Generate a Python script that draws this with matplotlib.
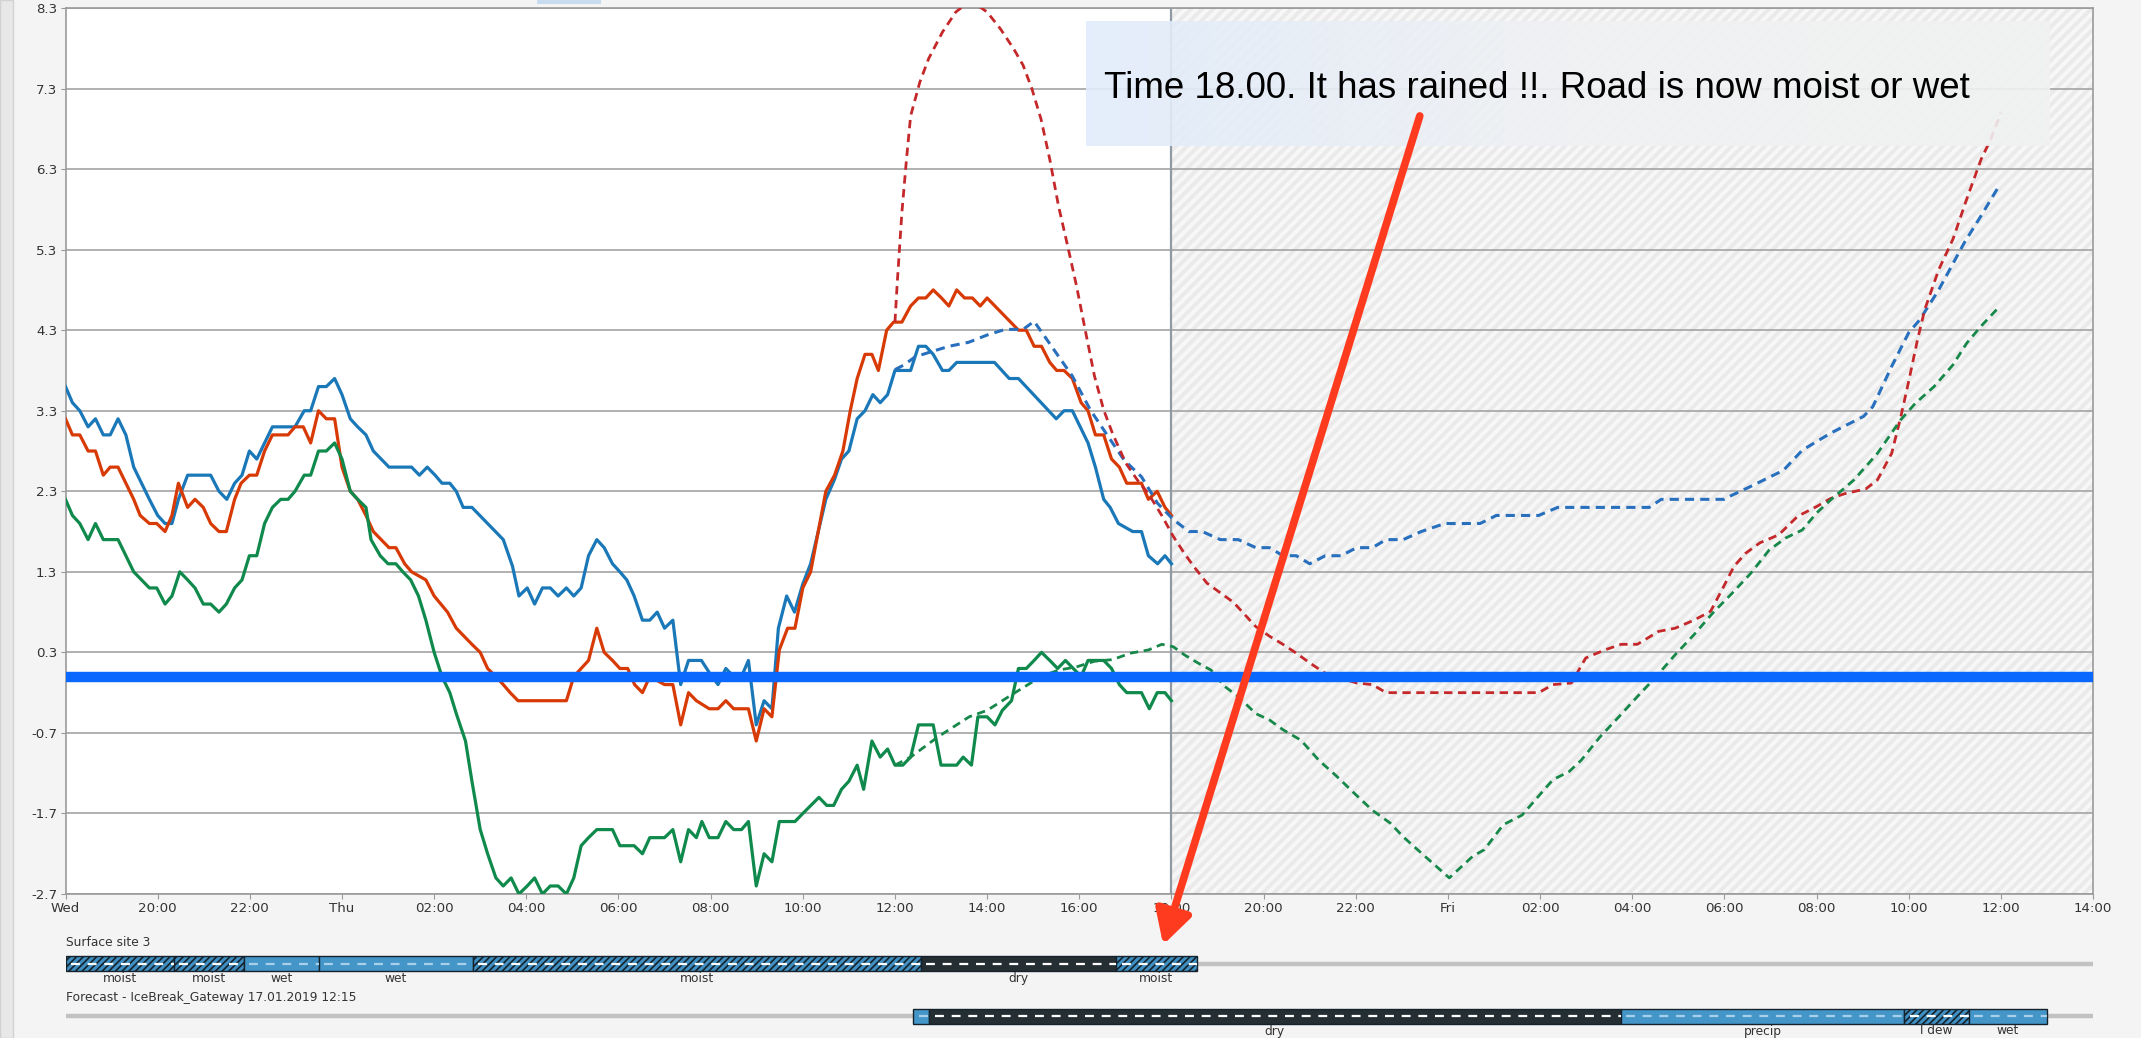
import numpy as np
import matplotlib.pyplot as plt
from matplotlib.colors import LinearSegmentedColormap
from matplotlib.patches import Rectangle

plt.rcParams['font.family'] = ['DejaVu Sans']

# ── hours after Wed 18:00 ─────────────────────────
x_ticks = list(range(0, 45, 2))
x_labels = ['Wed', '20:00', '22:00', 'Thu', '02:00', '04:00', '06:00', '08:00',
            '10:00', '12:00', '14:00', '16:00', '18:00', '20:00', '22:00', 'Fri',
            '02:00', '04:00', '06:00', '08:00', '10:00', '12:00', '14:00']
y_ticks = [-2.7, -1.7, -0.7, 0.3, 1.3, 2.3, 3.3, 4.3, 5.3, 6.3, 7.3, 8.3]

# ── observed (solid) ──────────────────────────────
blue_obs_h = [0, 0.15, 0.31, 0.49, 0.65, 0.82, 0.97, 1.14, 1.31, 1.48, 1.82, 2.0, 2.16, 2.31, 2.45,
              2.65, 3.15, 3.33, 3.5, 3.67, 3.83, 3.99, 4.15, 4.49, 4.98, 5.18, 5.32, 5.49, 5.66,
              5.84, 6.0, 6.18, 6.34, 6.52, 6.68, 6.85, 7.02, 7.51, 7.68, 7.85, 8.02, 8.17, 8.34,
              8.48, 8.63, 8.82, 9.16, 9.5, 9.7, 9.84, 10.02, 10.18, 10.35, 10.52, 10.69, 10.87,
              11.03, 11.19, 11.35, 11.53, 11.69, 11.87, 12.03, 12.18, 12.34, 12.52, 12.68, 12.84,
              13.0, 13.18, 13.35, 13.52, 13.8, 13.97, 14.16, 14.33, 14.5, 14.67, 14.82, 14.99,
              15.16, 15.33, 15.47, 15.65, 15.82, 16.0, 16.17, 16.5, 16.69, 16.84, 17.0, 17.18,
              17.35, 17.52, 17.68, 17.84, 18.0, 18.34, 18.51, 18.67, 18.83, 19.03, 19.17, 19.34,
              20.16, 20.48, 20.68, 21.5, 21.67, 21.85, 22.19, 22.35, 22.53, 22.67, 22.85, 23.16,
              23.35, 23.5, 23.7, 23.86, 24.0]
blue_obs_v = [3.6, 3.4, 3.3, 3.1, 3.2, 3.0, 3.0, 3.2, 3.0, 2.6, 2.2, 2.0, 1.9, 1.9, 2.2,
              2.5, 2.5, 2.3, 2.2, 2.4, 2.5, 2.8, 2.7, 3.1, 3.1, 3.3, 3.3, 3.6, 3.6,
              3.7, 3.5, 3.2, 3.1, 3.0, 2.8, 2.7, 2.6, 2.6, 2.5, 2.6, 2.5, 2.4, 2.4,
              2.3, 2.1, 2.1, 1.9, 1.7, 1.37, 1.0, 1.1, 0.9, 1.1, 1.1, 1.0, 1.1,
              1.0, 1.1, 1.5, 1.7, 1.6, 1.4, 1.3, 1.2, 1.0, 0.7, 0.7, 0.8,
              0.6, 0.7, -0.1, 0.2, 0.2, 0.05, -0.1, 0.1, 0.0, 0.0, 0.2, -0.6,
              -0.3, -0.4, 0.6, 1.0, 0.8, 1.15, 1.4, 2.2, 2.45, 2.7, 2.8, 3.2,
              3.3, 3.5, 3.4, 3.5, 3.8, 3.8, 4.1, 4.1, 4.0, 3.8, 3.8, 3.9,
              3.9, 3.7, 3.7, 3.2, 3.3, 3.3, 2.9, 2.6, 2.2, 2.1, 1.9, 1.8,
              1.8, 1.5, 1.4, 1.5, 1.4]

red_obs_h = [0, 0.15, 0.31, 0.49, 0.65, 0.82, 0.97, 1.14, 1.48, 1.62, 1.82, 1.98, 2.16, 2.31, 2.45,
             2.65, 2.81, 2.99, 3.15, 3.33, 3.49, 3.67, 3.81, 3.99, 4.15, 4.32, 4.49, 4.83, 4.98,
             5.16, 5.32, 5.49, 5.66, 5.84, 6.0, 6.18, 6.34, 6.52, 6.68, 6.85, 7.02, 7.17, 7.36,
             7.51, 7.82, 8.0, 8.29, 8.48, 8.65, 8.82, 9.0, 9.16, 9.34, 9.5, 9.65, 9.82, 10.87,
             11.03, 11.19, 11.35, 11.53, 11.69, 11.87, 12.03, 12.2, 12.35, 12.52, 12.68, 13.0,
             13.18, 13.35, 13.52, 13.69, 13.97, 14.16, 14.33, 14.5, 14.82, 14.99, 15.16, 15.33,
             15.49, 15.67, 15.83, 16.0, 16.17, 16.5, 16.69, 16.87, 17.03, 17.18, 17.35, 17.5,
             17.64, 17.82, 17.97, 18.15, 18.34, 18.51, 18.67, 18.83, 19.01, 19.17, 19.34, 19.51,
             19.68, 19.85, 20.0, 20.68, 20.85, 21.02, 21.18, 21.36, 21.51, 21.67, 21.85, 22.04,
             22.19, 22.35, 22.53, 22.7, 22.87, 23.03, 23.35, 23.5, 23.69, 23.86, 24.0]
red_obs_v = [3.2, 3.0, 3.0, 2.8, 2.8, 2.5, 2.6, 2.6, 2.2, 2.0, 1.9, 1.9, 1.8, 2.0, 2.4,
             2.1, 2.2, 2.1, 1.9, 1.8, 1.8, 2.2, 2.4, 2.5, 2.5, 2.8, 3.0, 3.0, 3.1,
             3.1, 2.9, 3.3, 3.2, 3.2, 2.6, 2.3, 2.2, 2.0, 1.8, 1.7, 1.6, 1.6, 1.4,
             1.3, 1.2, 1.0, 0.8, 0.6, 0.5, 0.4, 0.3, 0.1, 0.0, -0.1, -0.2, -0.3, -0.3,
             0.0, 0.1, 0.2, 0.6, 0.3, 0.2, 0.1, 0.1, -0.1, -0.2, 0.0, -0.1,
             -0.1, -0.6, -0.2, -0.3, -0.4, -0.4, -0.3, -0.4, -0.4, -0.8, -0.4, -0.5,
             0.33, 0.6, 0.6, 1.1, 1.3, 2.3, 2.5, 2.8, 3.3, 3.7, 4.0, 4.0,
             3.8, 4.3, 4.4, 4.4, 4.6, 4.7, 4.7, 4.8, 4.7, 4.6, 4.8, 4.7,
             4.7, 4.6, 4.7, 4.3, 4.3, 4.1, 4.1, 3.9, 3.8, 3.8, 3.7, 3.4,
             3.3, 3.0, 3.0, 2.7, 2.6, 2.4, 2.4, 2.2, 2.3, 2.1, 2.0]

green_obs_h = [0, 0.15, 0.31, 0.49, 0.65, 0.82, 1.14, 1.48, 1.82, 1.98, 2.16, 2.31, 2.48, 2.65,
               2.81, 2.99, 3.15, 3.33, 3.49, 3.67, 3.83, 3.99, 4.15, 4.32, 4.49, 4.67, 4.83,
               4.98, 5.18, 5.32, 5.49, 5.66, 5.84, 6.0, 6.18, 6.34, 6.52, 6.63, 6.83, 7.0,
               7.17, 7.32, 7.49, 7.66, 7.82, 8.0, 8.17, 8.34, 8.48, 8.68, 8.82, 9.0, 9.16,
               9.34, 9.5, 9.67, 9.84, 10.02, 10.18, 10.35, 10.52, 10.69, 10.87, 11.03, 11.19,
               11.35, 11.53, 11.87, 12.03, 12.34, 12.52, 12.68, 13.0, 13.18, 13.35, 13.52,
               13.69, 13.81, 13.97, 14.16, 14.33, 14.5, 14.67, 14.82, 14.99, 15.16, 15.33,
               15.49, 15.83, 16.0, 16.35, 16.52, 16.67, 16.84, 17.0, 17.18, 17.32, 17.5,
               17.68, 17.84, 18.0, 18.17, 18.34, 18.51, 18.83, 19.0, 19.34, 19.48, 19.66,
               19.8, 20.0, 20.17, 20.33, 20.53, 20.68, 20.85, 21.02, 21.18, 21.36, 21.53,
               21.7, 21.87, 22.04, 22.19, 22.35, 22.53, 22.7, 22.87, 23.03, 23.35, 23.52,
               23.69, 23.86, 24.0]
green_obs_v = [2.2, 2.0, 1.9, 1.7, 1.9, 1.7, 1.7, 1.3, 1.1, 1.1, 0.9, 1.0, 1.3, 1.2,
               1.1, 0.9, 0.9, 0.8, 0.9, 1.1, 1.2, 1.5, 1.5, 1.9, 2.1, 2.2, 2.2,
               2.3, 2.5, 2.5, 2.8, 2.8, 2.9, 2.7, 2.3, 2.2, 2.1, 1.7, 1.5, 1.4,
               1.4, 1.3, 1.2, 1.0, 0.7, 0.3, 0.0, -0.2, -0.46, -0.8, -1.3, -1.9, -2.2,
               -2.5, -2.6, -2.5, -2.7, -2.6, -2.5, -2.7, -2.6, -2.6, -2.7, -2.5, -2.1,
               -2.0, -1.9, -1.9, -2.1, -2.1, -2.2, -2.0, -2.0, -1.9, -2.3, -1.9,
               -2.0, -1.8, -2.0, -2.0, -1.8, -1.9, -1.9, -1.8, -2.6, -2.2, -2.3,
               -1.8, -1.8, -1.7, -1.5, -1.6, -1.6, -1.4, -1.3, -1.1, -1.4, -0.8,
               -1.0, -0.9, -1.1, -1.1, -1.0, -0.6, -0.6, -1.1, -1.1, -1.0, -1.1,
               -0.5, -0.5, -0.6, -0.42, -0.3, 0.1, 0.1, 0.2, 0.3, 0.2, 0.1,
               0.2, 0.1, 0.0, 0.2, 0.2, 0.2, 0.1, -0.1, -0.2, -0.2, -0.4,
               -0.2, -0.2, -0.3]

# ── forecast (dashed) ─────────────────────────────
blue_fc_h = [18.0, 18.2, 18.44, 18.83, 19.17, 19.6, 20.0, 20.39, 20.78, 21.02, 21.85, 22.24, 22.58,
             22.97, 23.35, 23.7, 24.04, 24.38, 24.67, 25.06, 25.45, 25.83, 26.13, 26.42, 26.71,
             27.0, 27.34, 27.68, 28.02, 28.36, 28.66, 29.03, 29.42, 29.93, 30.7, 31.05, 31.97,
             32.38, 34.37, 34.63, 36.0, 36.16, 36.57, 37.28, 37.69, 38.3, 39.02, 39.22, 39.63,
             40.0, 40.24, 40.65, 41.21, 41.57, 41.98]
blue_fc_v = [3.81, 3.87, 3.97, 4.04, 4.1, 4.15, 4.24, 4.31, 4.31, 4.41, 3.73, 3.31, 3.02,
             2.69, 2.48, 2.15, 1.95, 1.8, 1.8, 1.7, 1.7, 1.6, 1.6, 1.5, 1.5,
             1.4, 1.5, 1.5, 1.6, 1.6, 1.7, 1.7, 1.8, 1.9, 1.9, 2.0, 2.0,
             2.1, 2.1, 2.2, 2.2, 2.25, 2.36, 2.56, 2.81, 3.02, 3.23, 3.35, 3.85,
             4.27, 4.43, 4.8, 5.39, 5.72, 6.11]

red_fc_h = [18.0, 18.05, 18.15, 18.25, 18.34, 18.54, 18.73, 19.03, 19.32, 19.5, 19.8, 20.0, 20.29,
            20.58, 20.78, 20.97, 21.17, 21.36, 21.55, 21.75, 21.94, 22.14, 22.33, 22.53, 22.72,
            23.01, 23.26, 23.5, 23.79, 24.04, 24.28, 24.48, 24.77, 25.06, 25.35, 25.59, 25.83,
            26.13, 26.42, 26.71, 27.0, 27.34, 27.68, 28.02, 28.36, 28.66, 31.97, 32.28, 32.68,
            32.99, 33.4, 33.76, 34.11, 34.57, 34.93, 35.34, 35.7, 35.95, 36.21, 36.46, 36.77,
            37.18, 37.59, 38.0, 38.3, 38.61, 39.07, 39.32, 39.63, 39.83, 39.99, 40.19, 40.35,
            40.65, 40.96, 41.26, 41.57, 41.78, 42.0]
red_fc_v = [4.4, 4.89, 5.76, 6.42, 6.96, 7.38, 7.67, 8.0, 8.25, 8.33, 8.33, 8.25, 8.04,
            7.79, 7.59, 7.3, 6.92, 6.42, 5.84, 5.34, 4.85, 4.27, 3.73, 3.31, 3.02,
            2.65, 2.44, 2.27, 2.0, 1.74, 1.53, 1.37, 1.16, 1.04, 0.92, 0.77, 0.62,
            0.5, 0.4, 0.29, 0.17, 0.04, -0.02, -0.08, -0.1, -0.2, -0.2, -0.1, -0.08,
            0.23, 0.33, 0.4, 0.4, 0.56, 0.6, 0.7, 0.81, 1.08, 1.37, 1.53, 1.66,
            1.76, 1.99, 2.11, 2.21, 2.27, 2.33, 2.44, 2.77, 3.23, 3.64, 4.18, 4.56,
            5.05, 5.43, 5.93, 6.42, 6.67, 7.0]

green_fc_h = [18.0, 18.34, 18.93, 19.61, 20.0, 20.55, 21.17, 21.55, 21.94, 22.33, 22.72, 23.11,
              23.5, 23.79, 24.04, 24.28, 24.57, 24.86, 25.15, 25.45, 25.83, 26.13, 26.42, 26.81,
              27.2, 27.59, 27.97, 28.36, 28.75, 29.03, 29.42, 30.03, 30.54, 30.79, 31.2, 31.61,
              32.02, 32.28, 32.63, 32.89, 33.3, 33.71, 34.11, 34.52, 34.93, 35.34, 35.75, 36.16,
              36.57, 36.97, 37.33, 37.69, 38.0, 38.3, 38.81, 39.32, 39.83, 40.14, 40.55, 40.96,
              41.26, 41.57, 41.98]
green_fc_v = [-1.1, -1.0, -0.75, -0.5, -0.42, -0.22, 0.0, 0.08, 0.12, 0.19, 0.21, 0.29,
              0.33, 0.4, 0.37, 0.27, 0.17, 0.08, -0.12, -0.25, -0.46, -0.54, -0.66, -0.79,
              -1.04, -1.24, -1.45, -1.66, -1.82, -1.99, -2.19, -2.5, -2.23, -2.15, -1.84, -1.72,
              -1.45, -1.28, -1.18, -1.04, -0.75, -0.5, -0.25, 0.0, 0.27, 0.52, 0.79, 1.03,
              1.28, 1.57, 1.72, 1.82, 2.03, 2.19, 2.44, 2.77, 3.19, 3.39, 3.6, 3.87,
              4.14, 4.35, 4.6]

# ── state bars (start, end, state, label) ─────────
surface_segments = [(0.0, 2.35, 'moist', 'moist'), (2.35, 3.87, 'moist', 'moist'),
                    (3.87, 5.5, 'wet', 'wet'), (5.5, 8.84, 'wet', 'wet'),
                    (8.84, 18.56, 'moist', 'moist'), (18.56, 22.8, 'dry', 'dry'),
                    (22.8, 24.55, 'moist', 'moist')]
forecast_segments = [(18.4, 18.74, 'wet', ''), (18.74, 33.75, 'dry', 'dry'),
                     (33.75, 39.9, 'wet', 'precip'), (39.9, 41.3, 'moist', 'l dew'),
                     (41.3, 43.0, 'wet', 'wet')]

note_text = 'Time 18.00. It has rained !!. Road is now moist or wet'

state_style = {
    'moist': dict(face='#3f8fc2', hatch='/////', dash='white'),
    'wet': dict(face='#4496c8', hatch=None, dash='#a9d0ea'),
    'dry': dict(face='#252f33', hatch=None, dash='white'),
}

# ── figure ────────────────────────────────────────
fig = plt.figure(figsize=(21.41, 10.38), dpi=100, facecolor='#f4f4f4')
fig.add_artist(Rectangle((0, 0), 13 / 2141, 1, transform=fig.transFigure,
                         facecolor='#e8e8e8', edgecolor='#d2d2d2', lw=1))
fig.add_artist(Rectangle((537 / 2141, 1 - 4 / 1038), 64 / 2141, 4 / 1038,
                         transform=fig.transFigure, facecolor='#c8dbef', lw=0))

ax = fig.add_axes([0.0306, 0.1387, 0.947, 0.8536])
ax.set_facecolor('white')
ax.set_axisbelow(True)

# forecast part of the time axis
plt.rcParams['hatch.linewidth'] = 2.8
span = ax.axvspan(24, 44, facecolor='#f7f7f7', edgecolor='#eaeaea', hatch='///', lw=0, zorder=0)
if hasattr(span, 'set_hatch_linewidth'):
    span.set_hatch_linewidth(2.8)
ax.axvline(24, color='#8f9aa5', lw=1.6, zorder=1)

ax.plot(blue_obs_h, blue_obs_v, color='#1a78b8', lw=2.3, zorder=3)
ax.plot(red_obs_h, red_obs_v, color='#d83a05', lw=2.3, zorder=3)
ax.plot(green_obs_h, green_obs_v, color='#0f8a4c', lw=2.3, zorder=3)

ax.plot(blue_fc_h, blue_fc_v, color='#2870bd', lw=2.2, ls=(0, (3, 2)), zorder=3)
ax.plot(red_fc_h, red_fc_v, color='#c4282a', lw=2.0, ls=(0, (3, 2)), zorder=3)
ax.plot(green_fc_h, green_fc_v, color='#17884a', lw=2.0, ls=(0, (3, 2)), zorder=3)

ax.axhline(0, color='#0a68ff', lw=7.5, zorder=5)

# note box with soft gradient
grad = np.linspace(0, 1, 256).reshape(1, -1)
box_cmap = LinearSegmentedColormap.from_list('note', ['#e1ecfb', '#f0f1f3', '#f1f1f1'])
ax.imshow(grad, extent=(22.15, 43.05, 6.59, 8.13), cmap=box_cmap, aspect='auto',
          alpha=0.9, zorder=6, interpolation='bilinear')
ax.text(22.53, 7.3, note_text, fontsize=26.5, family=['Liberation Sans', 'DejaVu Sans'],
        va='center', ha='left', color='black', zorder=7)

ax.annotate('', xy=(23.82, -3.33), xytext=(29.39, 6.96), annotation_clip=False,
            arrowprops=dict(arrowstyle='-|>,head_length=1.0,head_width=0.55', mutation_scale=20,
                            color='#ff3b1f', lw=5.5, shrinkA=0, shrinkB=0), zorder=10)

ax.set_xlim(0, 44)
ax.set_ylim(-2.7, 8.3)
ax.set_xticks(x_ticks)
ax.set_xticklabels(x_labels)
ax.set_xticks(range(4, 44, 4), minor=True)
ax.set_yticks(y_ticks)
ax.set_yticklabels([f'{v:.1f}' for v in y_ticks])
ax.grid(axis='y', which='major', color='#a3a3a3', lw=1.2)
ax.grid(axis='x', which='minor', color='#a3a3a3', lw=1.2)
ax.tick_params(axis='both', which='major', labelsize=9.6, labelcolor='#333333',
               color='#9a9a9a', length=3.5, pad=2.5)
ax.tick_params(axis='x', which='minor', length=0)
for sp in ax.spines.values():
    sp.set_color('#9a9a9a')
    sp.set_linewidth(1.2)

# ── state bars below the chart ────────────────────
ax2 = fig.add_axes([0.0306, 0.0, 0.947, 113 / 1038])
ax2.set_xlim(0, 44)
ax2.set_ylim(1038, 925)
ax2.axis('off')

surf_y, fc_y, bar_h = 963.5, 1016, 15

ax2.text(0, 943, 'Surface site 3', fontsize=8.8, color='#333333', va='center', ha='left')
ax2.text(0, 997, 'Forecast - IceBreak_Gateway 17.01.2019 12:15', fontsize=8.8,
         color='#333333', va='center', ha='left')

plt.rcParams['hatch.linewidth'] = 1.2
for row_y, segments in [(surf_y, surface_segments), (fc_y, forecast_segments)]:
    ax2.hlines(row_y, 0, 44, color='#c2c2c2', lw=3.2, zorder=1)
    for start, end, state, label in segments:
        st = state_style[state]
        bars = ax2.barh(row_y, end - start, left=start, height=bar_h, color=st['face'],
                        edgecolor='#15222b', lw=1, hatch=st['hatch'], zorder=2)
        for b in bars:
            if hasattr(b, 'set_hatch_linewidth'):
                b.set_hatch_linewidth(1.2)
        ax2.hlines(row_y, start + 0.12, end, colors=st['dash'], lw=1.6,
                   linestyles=(0, (4, 3.5)), zorder=3)
        if label:
            ax2.text((start + end) / 2, row_y + 15, label, fontsize=8.8, color='#333333',
                     ha='center', va='center')

fig.savefig('out.png', dpi=100, facecolor=fig.get_facecolor())
